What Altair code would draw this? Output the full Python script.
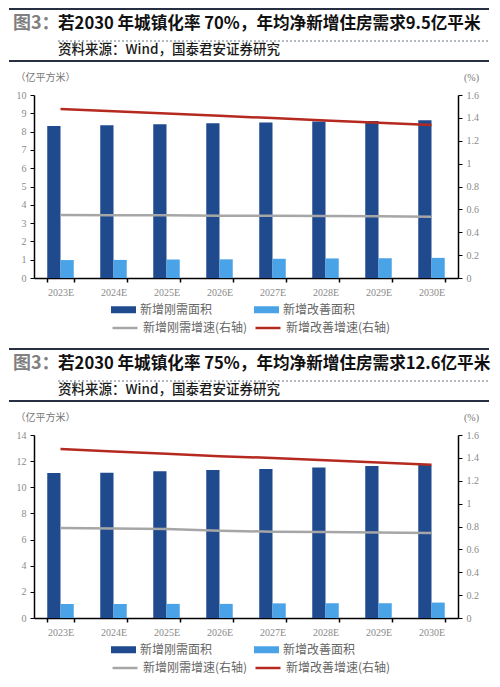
import altair as alt
import pandas as pd

years = ["2023E", "2024E", "2025E", "2026E", "2027E", "2028E", "2029E", "2030E"]
series_bars = ["新增刚需面积", "新增改善面积"]
series_lines = ["新增刚需增速(右轴)", "新增改善增速(右轴)"]

# Panel 1 (70%)
p1_rigid = [8.30, 8.35, 8.40, 8.45, 8.50, 8.55, 8.58, 8.62]
p1_improve = [0.98, 0.99, 1.01, 1.02, 1.05, 1.07, 1.08, 1.10]
p1_rigid_g = [0.551, 0.549, 0.548, 0.545, 0.544, 0.541, 0.539, 0.536]
p1_improve_g = [1.477, 1.457, 1.438, 1.418, 1.398, 1.378, 1.358, 1.338]

# Panel 2 (75%)
p2_rigid = [11.09, 11.12, 11.22, 11.32, 11.40, 11.52, 11.62, 11.70]
p2_improve = [1.07, 1.07, 1.08, 1.08, 1.12, 1.13, 1.13, 1.18]
p2_rigid_g = [0.787, 0.783, 0.778, 0.762, 0.755, 0.751, 0.747, 0.743]
p2_improve_g = [1.477, 1.455, 1.435, 1.415, 1.399, 1.380, 1.360, 1.340]

p1_title = "若2030 年城镇化率 70%，年均净新增住房需求9.5亿平米"
p2_title = "若2030 年城镇化率 75%，年均净新增住房需求12.6亿平米"
fig_label = "图3："
source = "资料来源：Wind，国泰君安证券研究"
left_title = "（亿平方米）"
right_title = "(%)"
p1_left_ticks = list(range(0, 11))
p2_left_ticks = list(range(0, 15, 2))
right_ticks = [0, 0.2, 0.4, 0.6, 0.8, 1, 1.2, 1.4, 1.6]

bar_colors = ["#1F4A8E", "#4AA3E6"]
line_colors = ["#A6A6A6", "#B5291F"]

W, H = 424, 183
CJK = "Noto Sans CJK SC"
SERIF = "Liberation Serif"
LABEL_GREY = "#8a8a8a"
RULE_DARK = "#263042"
RULE_DOT = "#6c7686"


def panel(title, rigid, improve, rigid_g, improve_g, ymax, left_ticks):
    bars_df = pd.DataFrame({
        "year": years * 2,
        "series": [series_bars[0]] * len(years) + [series_bars[1]] * len(years),
        "value": rigid + improve,
    })
    lines_df = pd.DataFrame({
        "year": years * 2,
        "series": [series_lines[0]] * len(years) + [series_lines[1]] * len(years),
        "rate": rigid_g + improve_g,
    })
    xenc = alt.X(
        "year:N", sort=years, title=None,
        scale=alt.Scale(paddingInner=0.5, paddingOuter=0.25),
        axis=alt.Axis(labelFont=SERIF, labelFontSize=10, labelColor=LABEL_GREY,
                      labelAngle=0, labelPadding=5, tickBand="extent", tickSize=4,
                      tickColor="#000000", domainColor="#000000", domainWidth=1.5,
                      tickWidth=1.5, grid=False),
    )
    bars = alt.Chart(bars_df).mark_bar(strokeWidth=0).encode(
        x=xenc,
        xOffset=alt.XOffset("series:N", sort=series_bars,
                            scale=alt.Scale(paddingInner=0, paddingOuter=0)),
        y=alt.Y("value:Q", title=left_title,
                scale=alt.Scale(domain=[0, ymax], nice=False, zero=True),
                axis=alt.Axis(orient="left", values=left_ticks, labelFont=SERIF, labelFontSize=10,
                              labelColor=LABEL_GREY, tickSize=4, tickColor="#000000",
                              domainColor="#000000", domainWidth=1.5, tickWidth=1,
                              labelPadding=4, grid=False, titleAngle=0, titleAlign="left",
                              titleBaseline="middle", titleX=-19, titleY=-18, titleFont=CJK,
                              titleFontSize=10, titleFontWeight="normal", titleColor="#777777")),
        fill=alt.Fill("series:N", sort=series_bars,
                      scale=alt.Scale(domain=series_bars, range=bar_colors),
                      legend=alt.Legend(title=None, orient="none", legendX=77, legendY=202,
                                        direction="horizontal", columns=2, columnPadding=41,
                                        padding=0, labelFont=CJK, labelFontSize=12,
                                        labelColor="#666666", labelOffset=4,
                                        symbolType="M-1,-0.28L1,-0.28L1,0.28L-1,0.28Z",
                                        symbolSize=625, symbolStrokeWidth=0)),
    )
    lines = alt.Chart(lines_df).mark_line(strokeWidth=2.5).encode(
        x=xenc,
        y=alt.Y("rate:Q", title=right_title,
                scale=alt.Scale(domain=[0, 1.6], nice=False),
                axis=alt.Axis(orient="right", values=right_ticks, format="~g", labelFont=SERIF,
                              labelFontSize=10, labelColor=LABEL_GREY, tickSize=4,
                              tickColor="#000000", domainColor="#000000", domainWidth=1.5,
                              tickWidth=1, labelPadding=4, grid=False, titleAngle=0,
                              titleAlign="center", titleBaseline="middle", titleX=13,
                              titleY=-18, titleFont=SERIF, titleFontSize=10,
                              titleFontWeight="normal", titleColor="#777777")),
        stroke=alt.Stroke("series:N", sort=series_lines,
                          scale=alt.Scale(domain=series_lines, range=line_colors),
                          legend=alt.Legend(title=None, orient="none", legendX=77, legendY=219,
                                            direction="horizontal", columns=2, columnPadding=2,
                                            padding=0, labelFont=CJK, labelFontSize=12,
                                            labelColor="#666666", labelOffset=4,
                                            symbolType="stroke", symbolSize=625,
                                            symbolStrokeWidth=2.5)),
    )
    one = pd.DataFrame({"k": [0]})
    base = alt.Chart(one)
    deco = [
        base.mark_rule(stroke=RULE_DARK, strokeWidth=2).encode(
            x=alt.value(-25), x2=alt.value(455), y=alt.value(-86)),
        base.mark_rule(stroke=RULE_DOT, strokeWidth=1.2, strokeDash=[2, 2]).encode(
            x=alt.value(24), x2=alt.value(455), y=alt.value(-54)),
        base.mark_rule(stroke=RULE_DARK, strokeWidth=2).encode(
            x=alt.value(-25), x2=alt.value(455), y=alt.value(-34)),
        base.mark_text(align="left", baseline="middle", font=CJK, fontSize=18,
                       fontWeight="bold", color="#808080").encode(
            x=alt.value(-21), y=alt.value(-71), text=alt.value(fig_label)),
        base.mark_text(align="left", baseline="middle", font=CJK, fontSize=16.6,
                       fontWeight="bold", color="#111111").encode(
            x=alt.value(24), y=alt.value(-71), text=alt.value(title)),
        base.mark_text(align="left", baseline="middle", font=CJK, fontSize=13.5,
                       fontWeight=500, color="#1a1a1a").encode(
            x=alt.value(24), y=alt.value(-45), text=alt.value(source)),
    ]
    return alt.layer(bars, lines, *deco).resolve_scale(y="independent").properties(
        width=W, height=H)


c1 = panel(p1_title, p1_rigid, p1_improve, p1_rigid_g, p1_improve_g, 10, p1_left_ticks)
c2 = panel(p2_title, p2_rigid, p2_improve, p2_rigid_g, p2_improve_g, 14, p2_left_ticks)

chart = alt.vconcat(c1, c2, spacing=157, bounds="flush").resolve_scale(
    fill="independent", stroke="independent"
).resolve_legend(fill="independent", stroke="independent").properties(
    padding=0, background="white"
).configure_view(stroke=None)

chart.save("out.html", embed_options={"renderer": "svg", "actions": False})
